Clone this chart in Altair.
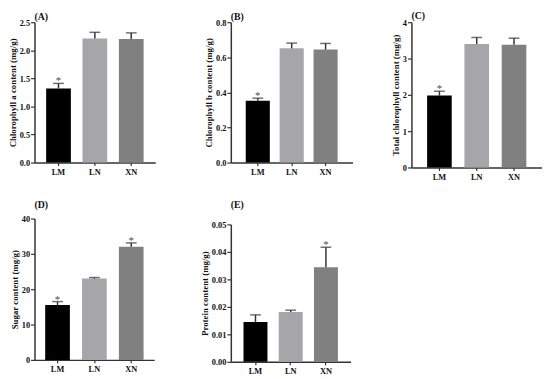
import altair as alt
import pandas as pd

groups = ["LM", "LN", "XN"]
bar_colors = ["#000000", "#a6a5a9", "#808080"]

# (A) Chlorophyll a
chla_mean = [1.32, 2.21, 2.20]
chla_top = [1.41, 2.32, 2.31]
chla_star = ["*", "", ""]
chla_ticks = [0.0, 0.5, 1.0, 1.5, 2.0, 2.5]

# (B) Chlorophyll b
chlb_mean = [0.352, 0.651, 0.644]
chlb_top = [0.367, 0.681, 0.679]
chlb_star = ["*", "", ""]
chlb_ticks = [0.0, 0.2, 0.4, 0.6, 0.8]

# (C) Total chlorophyll
tot_mean = [1.98, 3.40, 3.38]
tot_top = [2.10, 3.58, 3.56]
tot_star = ["*", "", ""]
tot_ticks = [0, 1, 2, 3, 4]

# (D) Sugar
sug_mean = [15.5, 23.0, 32.0]
sug_top = [16.5, 23.3, 33.1]
sug_star = ["*", "", "*"]
sug_ticks = [0, 10, 20, 30, 40]

# (E) Protein
pro_mean = [0.0145, 0.0181, 0.0344]
pro_top = [0.0171, 0.0188, 0.0417]
pro_star = ["", "", "*"]
pro_ticks = [0.00, 0.01, 0.02, 0.03, 0.04, 0.05]

FONT = "Liberation Serif"
LINE = "#333333"


def panel(label, ytitle, mean, top, star, ticks, fmt, w, h, pin, pout, title_offset):
    df = pd.DataFrame({"group": groups, "mean": mean, "top": top, "star": star})
    xaxis = alt.Axis(title=None, labelAngle=0, tickSize=3, labelPadding=2)
    xscale = alt.Scale(paddingInner=pin, paddingOuter=pout)
    yscale = alt.Scale(domain=[ticks[0], ticks[-1]], nice=False, zero=True)
    yaxis = alt.Axis(title=ytitle, values=ticks, format=fmt, tickSize=4,
                     labelPadding=1, titlePadding=2, grid=False,
                     labelOverlap=False, labelFlush=False)

    def X():
        return alt.X("group:N", sort=groups, scale=xscale, axis=xaxis)

    def Y(field):
        return alt.Y(field, scale=yscale, axis=yaxis, title=ytitle)

    base = alt.Chart(df)
    bars = base.mark_bar().encode(
        x=X(), y=Y("mean:Q"),
        color=alt.Color("group:N", scale=alt.Scale(domain=groups, range=bar_colors), legend=None),
    )
    rule = base.mark_rule(color=LINE, strokeWidth=1.5).encode(
        x=X(), y=Y("mean:Q"), y2="top:Q")
    cap = base.mark_tick(color=LINE, thickness=1.5, size=11).encode(
        x=X(), y=Y("top:Q"))
    txt = base.mark_text(font=FONT, fontSize=11, color="#4d4d4d", baseline="alphabetic", dy=1).encode(
        x=X(), y=Y("top:Q"), text="star:N")
    return alt.layer(bars, rule, cap, txt).properties(
        width=w, height=h,
        title=alt.TitleParams(label, anchor="start", frame="group", offset=title_offset,
                              font=FONT, fontSize=10, fontWeight="bold", color="#111111"),
    )


pA = panel("(A)", "Chlorophyll a content (mg/g)", chla_mean, chla_top, chla_star, chla_ticks, ".1f",
           123, 143, 0.32, 0.32, -4)
pB = panel("(B)", "Chlorophyll b content (mg/g)", chlb_mean, chlb_top, chlb_star, chlb_ticks, ".1f",
           124, 143, 0.29, 0.44, -4)
pC = panel("(C)", "Total chlorophyll content (mg/g)", tot_mean, tot_top, tot_star, tot_ticks, "d",
           133, 148, 0.34, 0.42, -3)
pD = panel("(D)", "Sugar content (mg/g)", sug_mean, sug_top, sug_star, sug_ticks, "d",
           122, 144, 0.33, 0.29, 5)
pE = panel("(E)", "Protein content (mg/g)", pro_mean, pro_top, pro_star, pro_ticks, ".2f",
           122, 140, 0.32, 0.36, 11)

col1 = alt.vconcat(pA, pD, spacing=24)
col2 = alt.vconcat(pB, pE, spacing=24)

chart = alt.hconcat(col1, alt.hconcat(col2, pC, spacing=39), spacing=46).properties(
    padding={"left": 0, "top": 0, "right": 0, "bottom": 0}
).configure_view(stroke=None).configure_axis(
    labelFont=FONT, titleFont=FONT, labelFontWeight="bold", titleFontWeight="bold",
    labelFontSize=8.5, titleFontSize=9, labelColor="#111111", titleColor="#111111",
    domainColor=LINE, tickColor=LINE, domainWidth=1.5, tickWidth=1.2,
)

chart.save("out.html", embed_options={"renderer": "svg", "actions": False})
